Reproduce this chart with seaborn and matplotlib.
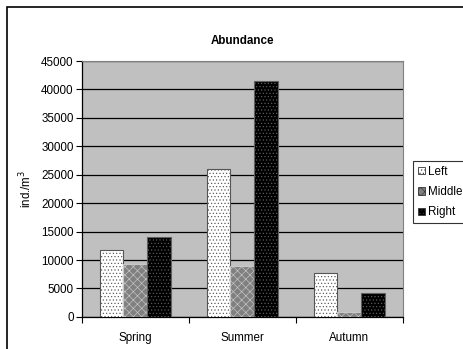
import pandas as pd
import matplotlib.pyplot as plt
import seaborn as sns
from matplotlib.patches import Rectangle, Patch

sns.set_theme(style="white")
plt.rcParams['font.family'] = ['Liberation Sans', 'DejaVu Sans']
plt.rcParams['hatch.linewidth'] = 0.45
plt.rcParams['text.color'] = 'black'
plt.rcParams['axes.labelcolor'] = 'black'
plt.rcParams['xtick.color'] = 'black'
plt.rcParams['ytick.color'] = 'black'

# values
seasons = ['Spring', 'Summer', 'Autumn']
sites = ['Left', 'Middle', 'Right']
left_vals = [11700, 26000, 7800]
middle_vals = [9300, 8900, 800]
right_vals = [14000, 41500, 4200]
yticks = list(range(0, 45001, 5000))

df = pd.DataFrame({
    'Season': seasons * 3,
    'Site': ['Left'] * 3 + ['Middle'] * 3 + ['Right'] * 3,
    'Abundance': left_vals + middle_vals + right_vals,
})

faces = {'Left': 'white', 'Middle': '#808080', 'Right': 'black'}
edges = {'Left': '#555555', 'Middle': '#c8c8c8', 'Right': '#606060'}
hatches = {'Left': '.....', 'Middle': 'xxxx', 'Right': '.....'}
fs = 8.4

fig = plt.figure(figsize=(4.63, 3.49), dpi=100)
ax = fig.add_axes([0.177, 0.092, 0.693, 0.733])
ax.set_facecolor('#c0c0c0')

sns.barplot(data=df, x='Season', y='Abundance', hue='Site', order=seasons,
            hue_order=sites, width=0.67, ax=ax, legend=False, zorder=3)

for site, cont in zip(sites, ax.containers):
    for bar in cont:
        bar.set_facecolor(faces[site])
        bar.set_edgecolor(edges[site])
        bar.set_hatch(hatches[site])
        bar.set_linewidth(0.8)

ax.set_ylim(0, 45000)
ax.set_xlim(-0.5, 2.5)
ax.set_yticks(yticks)
ax.set_yticklabels([str(v) for v in yticks], fontsize=fs)
ax.yaxis.grid(True, color='black', lw=0.9, zorder=1)
ax.set_axisbelow(True)

# x ticks between categories
ax.tick_params(axis='x', which='major', length=0, labelsize=fs, pad=11)
ax.set_xticks([-0.5, 0.5, 1.5, 2.5], minor=True)
ax.tick_params(axis='x', which='minor', length=4, width=0.8, direction='out', color='black', bottom=True)
ax.tick_params(axis='y', length=4, width=0.8, direction='out', color='black', left=True, pad=2)

for s in ['top', 'right']:
    ax.spines[s].set_color('#808080')
    ax.spines[s].set_linewidth(0.8)
for s in ['left', 'bottom']:
    ax.spines[s].set_color('black')
    ax.spines[s].set_linewidth(0.9)

ax.set_xlabel('')
ax.set_ylabel('ind./m$^3$', fontsize=fs, labelpad=5)
ax.set_title('Abundance', fontsize=fs, fontweight='bold', pad=12)

handles = [Patch(facecolor=faces[s], edgecolor='#333333', hatch=hatches[s], lw=0.6) for s in sites]
leg = fig.legend(handles, sites, loc='upper left', bbox_to_anchor=(413 / 463, 1 - 161 / 349),
                 fontsize=fs, frameon=True, fancybox=False, handlelength=0.6, handleheight=0.6,
                 handletextpad=0.3, borderpad=0.4, labelspacing=0.72, borderaxespad=0)
leg.get_frame().set_edgecolor('black')
leg.get_frame().set_linewidth(0.8)

# outer chart border (extends off the right and bottom)
fig.patches.append(Rectangle((7 / 463, -0.1), 2, 1.1 - 7 / 349, transform=fig.transFigure,
                             fill=False, edgecolor='black', lw=1.2))

fig.savefig('out.png', dpi=100)
